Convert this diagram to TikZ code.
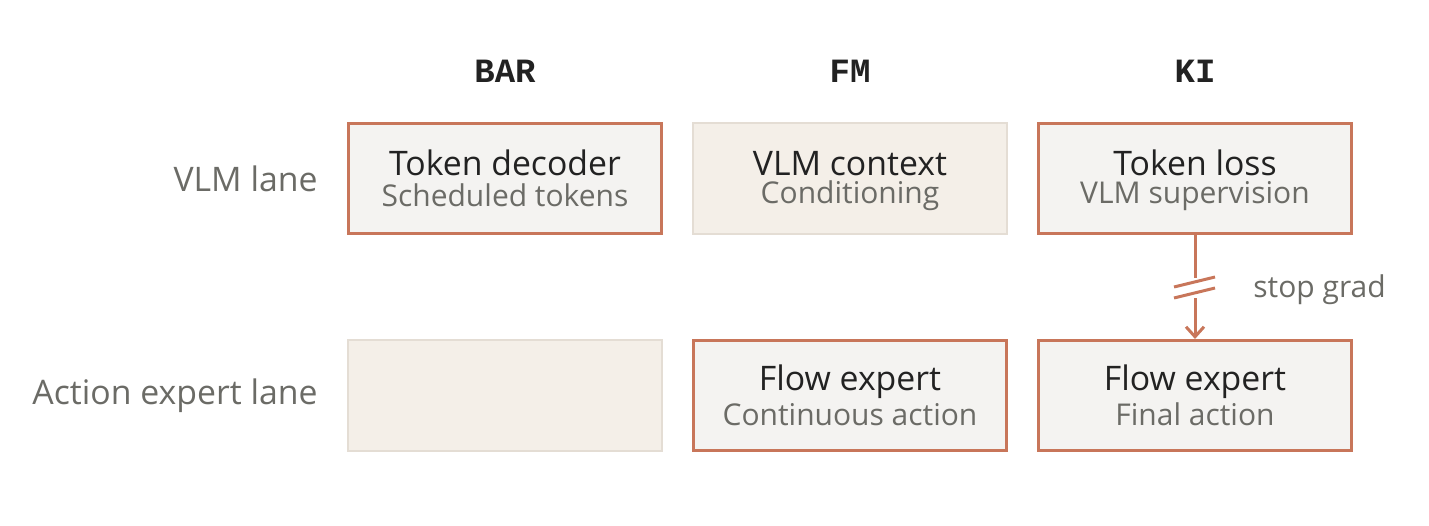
\documentclass[tikz,border=0pt]{standalone}
\usepackage{fontspec}
\setmainfont{Open Sans}
\setmonofont{Liberation Mono}
\usetikzlibrary{arrows.meta}
\definecolor{EdgeRed}{HTML}{C8765A}
\definecolor{CardFill}{HTML}{F4F3F1}
\definecolor{FadeFill}{HTML}{F4EFE8}
\definecolor{FadeEdge}{HTML}{E4DDD4}
\definecolor{InkDark}{HTML}{222222}
\definecolor{InkGray}{HTML}{6B6B66}

\tikzset{
  card/.style={draw=EdgeRed, line width=1.5pt, fill=CardFill,
    minimum width=156.5pt, minimum height=55pt, inner sep=0pt},
  fadecard/.style={draw=FadeEdge, line width=1pt, fill=FadeFill,
    minimum width=157pt, minimum height=55.5pt, inner sep=0pt},
  title/.style={anchor=base, inner sep=0pt, text=InkDark,
    font=\fontsize{16.9}{18}\selectfont},
  sub/.style={anchor=base, inner sep=0pt, text=InkGray,
    font=\fontsize{15}{17}\selectfont},
  lanelabel/.style={anchor=base east, inner sep=0pt, text=InkGray,
    font=\fontsize{16.9}{18}\selectfont},
  colhead/.style={anchor=base, inner sep=0pt, text=InkDark,
    font=\fontsize{17}{18}\selectfont\ttfamily\bfseries},
}

\begin{document}
\begin{tikzpicture}[x=0.5pt, y=-0.5pt]
  \useasboundingbox (0,0) rectangle (1429,525);
  % column headers
  \foreach \name/\cx in {BAR/505,FM/850,KI/1195} {
    \node[colhead] (head\name) at (\cx,82) {\name};
  }
  % lanes
  \node[lanelabel] (vlmlane) at (318,191) {VLM lane};
  \node[lanelabel] (actlane) at (318,404) {Action expert lane};

  % VLM lane
  \node[card] (barTop) at (505,178.5) {};
  \node[title] (barTopT) at (505,175) {Token decoder};
  \node[sub] (barTopS) at (505,206) {Scheduled tokens};
  \node[fadecard] (fmTop) at (850,178.5) {};
  \node[title] (fmTopT) at (850,175) {VLM context};
  \node[sub] (fmTopS) at (850,203) {Conditioning};
  \node[card] (kiTop) at (1195,178.5) {};
  \node[title] (kiTopT) at (1195,175) {Token loss};
  \node[sub] (kiTopS) at (1195,203) {VLM supervision};

  % action expert lane
  \node[fadecard] (barBot) at (505,395.5) {};
  \node[card] (fmBot) at (850,395.5) {};
  \node[title] (fmBotT) at (850,390) {Flow expert};
  \node[sub] (fmBotS) at (850,425) {Continuous action};
  \node[card] (kiBot) at (1195,395.5) {};
  \node[title] (kiBotT) at (1195,390) {Flow expert};
  \node[sub] (kiBotS) at (1195,425) {Final action};

  % stop gradient
  \coordinate (cutA) at (1195,278);
  \coordinate (cutB) at (1195,298);
  \draw[EdgeRed, line width=1.5pt] (kiTop.south) -- (cutA);
  \draw[EdgeRed, line width=1.5pt, -{Straight Barb[length=5pt,width=9pt]}] (cutB) -- (kiBot.north);
  \draw[EdgeRed, line width=1.5pt] (1174,287) -- (1215,277);
  \draw[EdgeRed, line width=1.5pt] (1174,298) -- (1215,288);
  \node[sub, anchor=base west] (stopgrad) at (1253,297) {stop grad};
\end{tikzpicture}
\end{document}
